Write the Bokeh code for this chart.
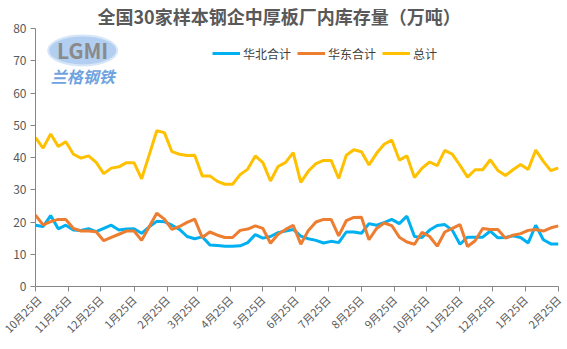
import pandas as pd
from bokeh.plotting import figure
from bokeh.models import Range1d, FixedTicker, Legend, LegendItem, Label
from bokeh.embed import file_html
from bokeh.resources import INLINE

title_text = "全国30家样本钢企中厚板厂内库存量（万吨）"
series_names = ["华北合计", "华东合计", "总计"]
start_date = "2022-10-25"
end_date = "2024-02-25"

north = [19.0, 18.6, 22.0, 17.9, 19.0, 17.5, 17.4, 17.9, 17.0, 18.0,
         19.0, 17.5, 17.8, 17.9, 16.5, 18.5, 20.2, 20.1, 19.0, 17.7,
         15.5, 14.8, 15.4, 12.9, 12.7, 12.5, 12.5, 12.6, 13.6, 16.1,
         15.0, 15.5, 16.7, 17.2, 17.7, 15.6, 14.8, 14.3, 13.5, 14.0,
         13.6, 16.9, 16.9, 16.5, 19.5, 19.0, 19.8, 20.8, 19.5, 21.8,
         15.5, 15.2, 17.5, 18.9, 19.2, 17.4, 13.1, 15.3, 15.3, 15.3,
         17.2, 15.1, 15.2, 15.7, 15.2, 13.5, 19.0, 14.5, 13.2, 13.2]
east = [22.1, 19.1, 20.1, 20.8, 20.8, 18.0, 17.2, 17.2, 17.0, 14.2,
        15.2, 16.2, 17.2, 17.2, 14.3, 18.5, 22.7, 20.9, 17.7, 18.6,
        19.9, 20.9, 15.2, 16.9, 15.9, 15.2, 15.2, 17.4, 17.8, 18.8,
        18.0, 13.4, 16.2, 17.7, 19.0, 13.1, 17.4, 20.0, 20.8, 20.8,
        15.7, 20.4, 21.4, 21.5, 14.5, 18.0, 19.7, 18.9, 15.3, 13.8,
        13.1, 16.8, 15.5, 12.5, 16.9, 18.0, 19.2, 12.4, 14.2, 18.0,
        17.7, 17.7, 15.0, 15.9, 16.4, 17.4, 17.7, 17.2, 18.2, 18.8]
total = [46.2, 42.9, 47.3, 43.4, 44.9, 41.0, 39.8, 40.5, 38.5, 35.0,
         36.7, 37.1, 38.4, 38.4, 33.4, 40.8, 48.3, 47.7, 41.8, 41.0,
         40.6, 40.7, 34.3, 34.3, 32.6, 31.7, 31.7, 34.7, 36.4, 40.5,
         38.4, 32.7, 37.2, 38.5, 41.5, 32.3, 35.8, 38.1, 39.1, 39.1,
         33.5, 40.7, 42.4, 41.8, 37.7, 41.3, 44.1, 45.4, 39.2, 40.5,
         33.8, 36.7, 38.6, 37.5, 42.2, 41.0, 37.6, 33.9, 36.2, 36.2,
         39.3, 36.0, 34.4, 36.2, 37.8, 36.3, 42.3, 38.8, 35.9, 36.8]

tick_dates = ["2022-10-25", "2022-11-25", "2022-12-25", "2023-01-25", "2023-02-25",
              "2023-03-25", "2023-04-25", "2023-05-25", "2023-06-25", "2023-07-25",
              "2023-08-25", "2023-09-25", "2023-10-25", "2023-11-25", "2023-12-25",
              "2024-01-25", "2024-02-25"]
tick_labels = ["10月25日", "11月25日", "12月25日", "1月25日", "2月25日", "3月25日",
               "4月25日", "5月25日", "6月25日", "7月25日", "8月25日", "9月25日",
               "10月25日", "11月25日", "12月25日", "1月25日", "2月25日"]
y_ticks = [0, 10, 20, 30, 40, 50, 60, 70, 80]

colors = ["#00B0F0", "#ED7D31", "#FFC000"]
FONT = "Noto Sans CJK SC"
TXT = "#595959"
AX = "#868686"

dates = pd.date_range(start_date, end_date, periods=len(total))

p = figure(width=567, height=349, x_axis_type="datetime",
           x_range=Range1d(pd.Timestamp(start_date), pd.Timestamp(end_date)),
           y_range=Range1d(0, 80),
           output_backend="svg", toolbar_location=None,
           min_border_left=35, min_border_right=9, min_border_bottom=63, min_border_top=0)

p.title.text = title_text
p.title.text_font = FONT
p.title.text_font_size = "18px"
p.title.text_font_style = "bold"
p.title.text_color = TXT
p.title.align = "left"
p.title.standoff = 0
p.title.offset = 62

p.outline_line_color = None
p.xgrid.visible = False
p.ygrid.visible = False

renderers = []
for vals, c in zip([north, east, total], colors):
    r = p.line(dates, vals, line_color=c, line_width=3)
    renderers.append(r)

ms = [int(pd.Timestamp(d).value // 10**6) for d in tick_dates]
p.xaxis.ticker = FixedTicker(ticks=ms)
p.xaxis.major_label_overrides = {m: lab for m, lab in zip(ms, tick_labels)}
p.xaxis.major_label_orientation = 3.14159265 / 4
p.xaxis.major_label_text_font = FONT
p.xaxis.major_label_text_font_size = "11px"
p.xaxis.major_label_text_color = TXT
p.xaxis.major_label_standoff = 6
p.xaxis.axis_line_color = AX
p.xaxis.major_tick_line_color = AX
p.xaxis.major_tick_out = 5
p.xaxis.major_tick_in = 0
p.xaxis.minor_tick_line_color = None

p.yaxis.ticker = FixedTicker(ticks=y_ticks)
p.yaxis.major_label_text_font = FONT
p.yaxis.major_label_text_font_size = "12px"
p.yaxis.major_label_text_color = TXT
p.yaxis.major_label_standoff = 4
p.yaxis.axis_line_color = AX
p.yaxis.major_tick_line_color = AX
p.yaxis.major_tick_out = 5
p.yaxis.major_tick_in = 0
p.yaxis.minor_tick_line_color = None

# watermark logo
logo_x = pd.Timestamp("2022-12-08")
p.ellipse(x=[logo_x], y=[73.2], width=69, height=30, width_units="screen",
          height_units="screen", fill_color="#a4c7ee", fill_alpha=0.85,
          line_color="#d6e6f8", line_width=2)
p.add_layout(Label(x=logo_x, y=73.2, text="LGMI", text_align="center",
                   text_baseline="middle", text_font=FONT, text_font_size="21px",
                   text_font_style="bold", text_color="#8a8a8a"))
p.add_layout(Label(x=logo_x, y=65.2, text="兰格钢铁", text_align="center",
                   text_baseline="middle", text_font=FONT, text_font_size="16px",
                   text_font_style="bold italic", text_color="#6fa3e0"))

legend = Legend(items=[LegendItem(label=n, renderers=[r]) for n, r in zip(series_names, renderers)],
                orientation="horizontal", location=(177, 223),
                label_text_font=FONT, label_text_font_size="12px", label_text_color="#404040",
                glyph_width=28, glyph_height=20, label_standoff=3, spacing=6,
                padding=0, margin=0, border_line_color=None, background_fill_alpha=0)
p.add_layout(legend)

open("out.html", "w").write(file_html(p, INLINE))
